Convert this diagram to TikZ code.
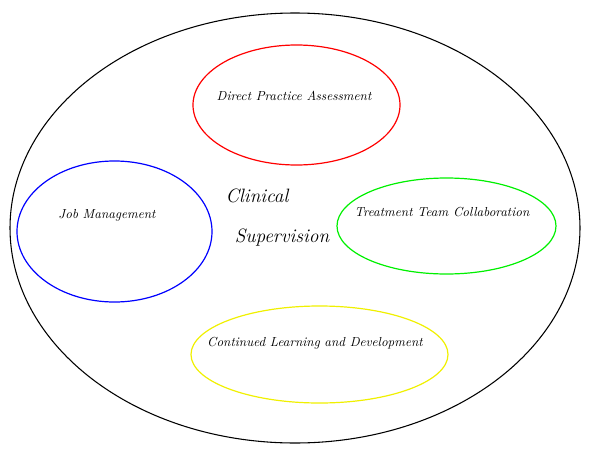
\documentclass[tikz,border=0pt]{standalone}
\usetikzlibrary{shapes.geometric}
\begin{document}
\begin{tikzpicture}[x=0.75pt,y=-0.75pt,
  oval/.style={ellipse,draw,inner sep=0pt,line width=0.9pt},
  lbl/.style={inner sep=0pt,font=\fontsize{9.8}{11}\selectfont\itshape},
  big/.style={inner sep=0pt,font=\fontsize{14.5}{16}\selectfont\itshape}]
\useasboundingbox (0,0) rectangle (600,450);
\node[oval,draw=black,line width=0.8pt,minimum width=570*0.75pt,minimum height=430*0.75pt] (outer) at (295,228) {};
\node[oval,draw=red,minimum width=207*0.75pt,minimum height=120*0.75pt] (dpa) at (296.5,105) {};
\node[oval,draw=blue,minimum width=195*0.75pt,minimum height=141*0.75pt] (job) at (114.5,231.5) {};
\node[oval,draw={rgb,255:red,0;green,240;blue,0},minimum width=219*0.75pt,minimum height=96*0.75pt] (ttc) at (446.5,226) {};
\node[oval,draw={rgb,255:red,240;green,240;blue,0},minimum width=257*0.75pt,minimum height=97*0.75pt] (cld) at (319.5,354.5) {};
\node[lbl] (tdpa) at (294,96) {Direct Practice Assessment};
\node[lbl] (tjob) at (107,215) {Job Management};
\node[lbl] (tttc) at (442,212) {Treatment Team Collaboration};
\node[lbl] (tcld) at (315,343) {Continued Learning and Development};
\node[big] (tcl) at (257,196) {Clinical};
\node[big] (tsup) at (282,238) {Supervision};
\end{tikzpicture}
\end{document}
